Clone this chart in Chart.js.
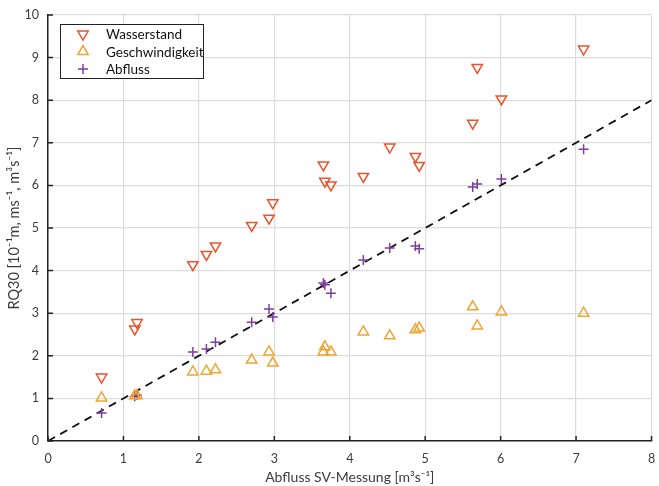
<!DOCTYPE html>
<html>
<head>
<meta charset="utf-8">
<script src="https://cdn.jsdelivr.net/npm/chart.js@4/dist/chart.umd.min.js"></script>
<style>
  body { margin: 0; background: #fff; }
  #wrap { width: 659px; height: 486px; position: relative; }
</style>
</head>
<body>
<div id="wrap"><canvas id="myChart" width="659" height="486"></canvas></div>
<script>
/* Datos */
const abflussSV = [0.71, 1.15, 1.18, 1.92, 2.10, 2.22, 2.70, 2.93, 2.98, 3.65, 3.67, 3.75, 4.18, 4.53, 4.87, 4.92, 5.63, 5.69, 6.01, 7.10];
const wasserstand = [1.50, 2.63, 2.78, 4.14, 4.38, 4.58, 5.06, 5.23, 5.59, 6.48, 6.10, 6.01, 6.21, 6.90, 6.68, 6.47, 7.46, 8.77, 8.03, 9.20];
const geschwindigkeit = [1.01, 1.06, 1.07, 1.62, 1.64, 1.67, 1.90, 2.09, 1.83, 2.09, 2.21, 2.09, 2.56, 2.47, 2.61, 2.65, 3.15, 2.70, 3.03, 3.00];
const abfluss = [0.66, 1.05, 1.08, 2.09, 2.16, 2.32, 2.79, 3.10, 2.91, 3.71, 3.67, 3.47, 4.25, 4.53, 4.58, 4.51, 5.96, 6.03, 6.15, 6.85];
const lineaX = [0, 8];
const serieNombres = ['Wasserstand', 'Geschwindigkeit', 'Abfluss'];
const xTicks = [0, 1, 2, 3, 4, 5, 6, 7, 8];
const yTicks = [0, 1, 2, 3, 4, 5, 6, 7, 8, 9, 10];

const fuente = 'Lato, "Open Sans", sans-serif';
const colorTexto = '#3c3c3c';

function puntos(ys) {
  return abflussSV.map((x, i) => ({ x: x, y: ys[i] }));
}

/* Ticks hacia dentro y leyenda con marco */
const ticksDentro = {
  id: 'ticksDentro',
  afterDatasetsDraw(chart) {
    const c = chart.ctx;
    const xs = chart.scales.x, ys = chart.scales.y;
    const a = chart.chartArea;
    c.save();
    c.strokeStyle = '#222';
    c.lineWidth = 1.5;
    c.beginPath();
    xTicks.forEach(v => {
      const px = xs.getPixelForValue(v);
      c.moveTo(px, a.bottom);
      c.lineTo(px, a.bottom - 5);
    });
    yTicks.forEach(v => {
      const py = ys.getPixelForValue(v);
      c.moveTo(a.left, py);
      c.lineTo(a.left + 5, py);
    });
    c.stroke();
    c.restore();
  },
  afterDraw(chart) {
    const c = chart.ctx;
    const a = chart.chartArea;
    const bx = a.left + 12, by = a.top + 9, bw = 143, bh = 54;
    c.save();
    c.fillStyle = '#fff';
    c.fillRect(bx, by, bw, bh);
    c.strokeStyle = '#222';
    c.lineWidth = 1;
    c.strokeRect(bx + 0.5, by + 0.5, bw, bh);
    c.font = '13.5px ' + fuente;
    c.textBaseline = 'middle';
    serieNombres.forEach((nombre, i) => {
      const ds = chart.data.datasets[i];
      const yy = by + 10 + i * 17.5;
      c.strokeStyle = ds.borderColor;
      c.fillStyle = 'rgba(0,0,0,0)';
      c.lineWidth = ds.pointBorderWidth;
      Chart.helpers.drawPoint(c, {
        pointStyle: ds.pointStyle,
        radius: ds.pointRadius,
        rotation: ds.rotation || 0,
        borderWidth: ds.pointBorderWidth
      }, bx + 23, yy);
      c.fillStyle = '#111';
      c.fillText(nombre, bx + 46, yy + 1);
    });
    c.restore();
  }
};

new Chart(document.getElementById('myChart'), {
  type: 'scatter',
  data: {
    datasets: [{
      label: serieNombres[0],
      data: puntos(wasserstand),
      pointStyle: 'triangle',
      rotation: 180,
      pointRadius: 6,
      pointBorderWidth: 1.5,
      borderColor: '#e8552d',
      backgroundColor: 'rgba(0,0,0,0)'
    }, {
      label: serieNombres[1],
      data: puntos(geschwindigkeit),
      pointStyle: 'triangle',
      pointRadius: 6,
      pointBorderWidth: 1.5,
      borderColor: '#f0a530',
      backgroundColor: 'rgba(0,0,0,0)'
    }, {
      label: serieNombres[2],
      data: puntos(abfluss),
      pointStyle: 'cross',
      pointRadius: 5,
      pointBorderWidth: 1.5,
      borderColor: '#7d3f9c',
      backgroundColor: 'rgba(0,0,0,0)'
    }, {
      label: '1:1',
      type: 'line',
      data: lineaX.map(v => ({ x: v, y: v })),
      borderColor: '#111',
      borderWidth: 1.8,
      borderDash: [8, 6],
      pointRadius: 0,
      fill: false
    }]
  },
  options: {
    responsive: false,
    animation: false,
    devicePixelRatio: 1,
    layout: { padding: { top: 15, right: -4, left: 0, bottom: 0 } },
    plugins: {
      legend: { display: false },
      tooltip: { enabled: false }
    },
    scales: {
      x: {
        type: 'linear',
        min: 0,
        max: 8,
        afterBuildTicks: s => { s.ticks = xTicks.map(v => ({ value: v })); },
        afterFit: s => { s.height = 45; s.paddingLeft = 0; s.paddingRight = 0; },
        grid: { color: '#dcdcdc', lineWidth: 1.2, drawTicks: false },
        border: { color: '#222', width: 1.5 },
        ticks: { color: colorTexto, padding: 10, autoSkip: false, maxRotation: 0, font: { family: fuente, size: 12.5 } },
        title: {
          display: true,
          text: 'Abfluss SV-Messung [m³s⁻¹]',
          color: colorTexto,
          padding: { top: 5, bottom: 0 },
          font: { family: fuente, size: 14 }
        }
      },
      y: {
        type: 'linear',
        min: 0,
        max: 10,
        afterBuildTicks: s => { s.ticks = yTicks.map(v => ({ value: v })); },
        afterFit: s => { s.width = 48; s.paddingTop = 0; s.paddingBottom = 0; },
        grid: { color: '#dcdcdc', lineWidth: 1.2, drawTicks: false },
        border: { color: '#222', width: 1.5 },
        ticks: { color: colorTexto, padding: 9, autoSkip: false, font: { family: fuente, size: 12.5 } },
        title: {
          display: true,
          text: 'RQ30 [10⁻¹m, ms⁻¹, m³s⁻¹]',
          color: colorTexto,
          padding: { top: 6, bottom: 4 },
          font: { family: fuente, size: 14.5 }
        }
      }
    }
  },
  plugins: [ticksDentro]
});
</script>
</body>
</html>
